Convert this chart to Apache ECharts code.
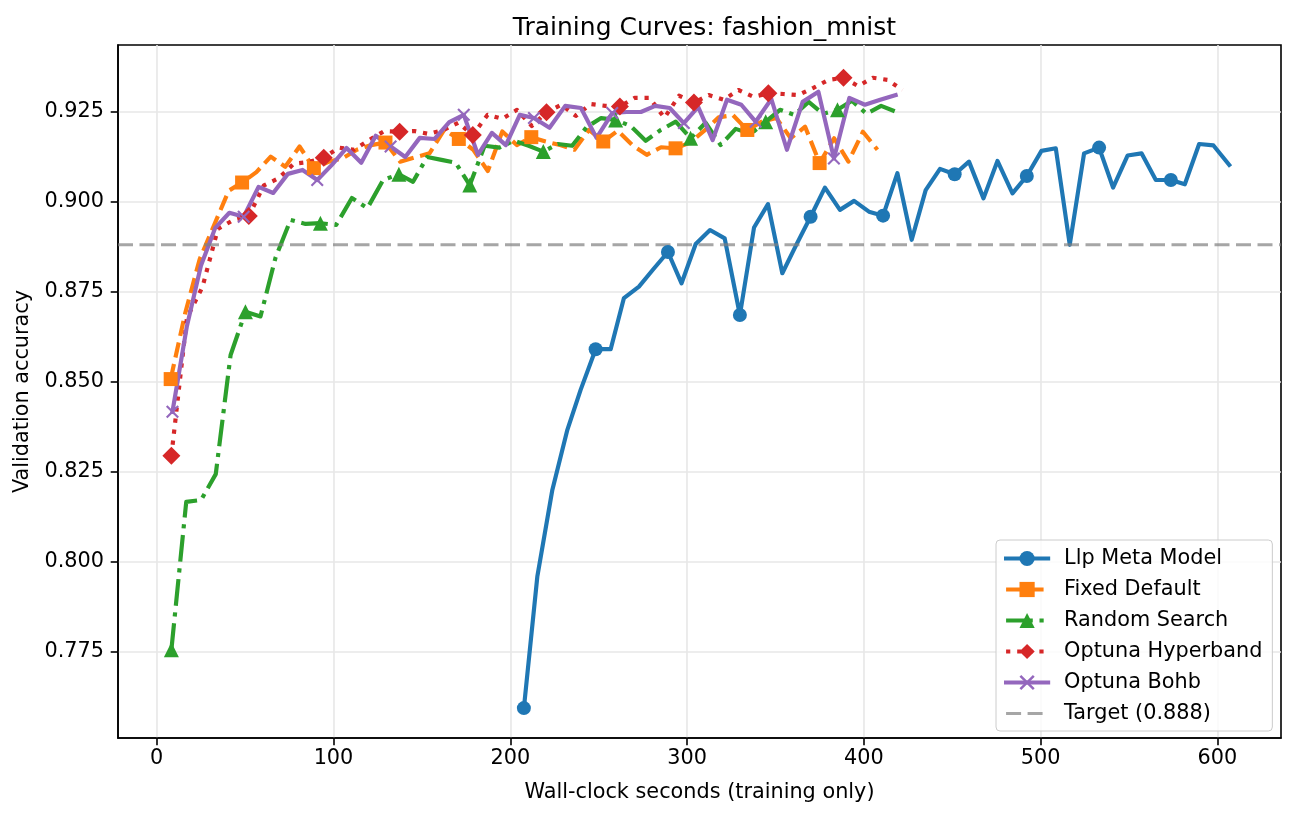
<!DOCTYPE html>
<html>
<head>
<meta charset="utf-8">
<title>Training Curves: fashion_mnist</title>
<script src="https://cdn.jsdelivr.net/npm/echarts@6/dist/echarts.min.js"></script>
<style>
  html, body { margin: 0; padding: 0; background: #fff; }
  #chart { width: 1295px; height: 817px; }
</style>
</head>
<body>
<div id="chart"></div>
<script>
// Llp Meta Model
const metaX = [207.7, 215.3, 223.8, 232.3, 239.8, 248.3, 256.8, 264.3, 272.8, 280.9, 289.2, 296.9, 304.9, 313.0, 321.3, 329.9, 337.9, 345.8, 353.9, 362.0, 369.9, 378.0, 386.5, 394.5, 402.9, 410.9, 419.0, 427.1, 435.0, 443.1, 451.4, 459.5, 467.7, 475.6, 484.1, 492.2, 500.5, 508.6, 516.5, 524.6, 533.1, 541.0, 549.2, 557.1, 565.2, 573.7, 581.6, 589.7, 597.8, 606.7]
const metaY = [0.7593, 0.7958, 0.8199, 0.8366, 0.8477, 0.8590, 0.8590, 0.8732, 0.8764, 0.8812, 0.8860, 0.8773, 0.8882, 0.8921, 0.8898, 0.8685, 0.8928, 0.8993, 0.8801, 0.8882, 0.8958, 0.9039, 0.8977, 0.9002, 0.8972, 0.8961, 0.9079, 0.8894, 0.9032, 0.9091, 0.9076, 0.9111, 0.9009, 0.9113, 0.9023, 0.9071, 0.9141, 0.9148, 0.8880, 0.9134, 0.9150, 0.9039, 0.9128, 0.9134, 0.9060, 0.9060, 0.9048, 0.9160, 0.9156, 0.9102]

// Fixed Default
const fixedX = [7.9, 16.1, 24.3, 32.5, 40.7, 48.3, 56.4, 64.5, 72.7, 80.8, 88.9, 96.9, 105.0, 113.2, 121.3, 129.4, 137.7, 146.0, 154.3, 162.6, 170.9, 179.1, 187.3, 195.5, 203.7, 211.9, 220.0, 228.2, 236.3, 244.5, 252.6, 260.8, 269.0, 277.2, 285.3, 293.5, 301.6, 309.8, 317.9, 326.0, 334.1, 342.3, 350.5, 358.7, 366.8, 375.0, 383.2, 391.3, 399.5, 407.7]
const fixedY = [0.8507, 0.8690, 0.8840, 0.8935, 0.9030, 0.9053, 0.9082, 0.9125, 0.9097, 0.9153, 0.9093, 0.9110, 0.9120, 0.9144, 0.9157, 0.9164, 0.9111, 0.9123, 0.9134, 0.9199, 0.9174, 0.9144, 0.9085, 0.9195, 0.9157, 0.9179, 0.9167, 0.9157, 0.9144, 0.9199, 0.9167, 0.9197, 0.9157, 0.9130, 0.9151, 0.9148, 0.9164, 0.9197, 0.9234, 0.9240, 0.9199, 0.9222, 0.9232, 0.9176, 0.9208, 0.9107, 0.9176, 0.9111, 0.9194, 0.9144]

// Random Search
const randomX = [8.3, 16.7, 25.1, 33.4, 41.8, 50.2, 58.7, 67.2, 75.7, 84.2, 92.6, 101.5, 110.4, 119.2, 128.1, 137.0, 145.0, 153.0, 161.1, 169.1, 177.1, 185.5, 193.8, 202.1, 210.4, 218.7, 226.9, 235.0, 243.2, 251.4, 259.6, 268.1, 276.6, 285.1, 293.6, 302.0, 310.5, 319.0, 327.5, 336.0, 344.5, 352.6, 360.7, 368.8, 376.9, 385.1, 393.3, 401.5, 409.8, 418.0]
const randomY = [0.7755, 0.8166, 0.8171, 0.8243, 0.8574, 0.8694, 0.8681, 0.8844, 0.8949, 0.8938, 0.8940, 0.8935, 0.9010, 0.8982, 0.9060, 0.9076, 0.9055, 0.9124, 0.9116, 0.9108, 0.9046, 0.9155, 0.9150, 0.9169, 0.9155, 0.9139, 0.9160, 0.9155, 0.9207, 0.9232, 0.9227, 0.9210, 0.9169, 0.9199, 0.9222, 0.9176, 0.9219, 0.9157, 0.9202, 0.9188, 0.9222, 0.9255, 0.9241, 0.9277, 0.9244, 0.9255, 0.9280, 0.9244, 0.9266, 0.9250]

// Optuna Hyperband
const hyperX = [8.3, 17.1, 25.9, 34.6, 43.4, 52.1, 60.6, 69.0, 77.5, 86.0, 94.5, 103.1, 111.6, 120.2, 128.7, 137.4, 145.7, 153.9, 162.3, 170.6, 178.8, 187.2, 195.5, 203.8, 212.2, 220.5, 228.9, 237.1, 245.4, 253.8, 262.0, 270.4, 278.8, 287.2, 295.5, 303.9, 312.3, 320.8, 329.1, 337.6, 346.0, 354.5, 363.0, 371.5, 380.0, 388.5, 396.8, 405.1, 413.5, 421.8]
const hyperY = [0.8294, 0.8677, 0.8763, 0.8924, 0.8949, 0.8960, 0.9045, 0.9065, 0.9105, 0.9110, 0.9122, 0.9150, 0.9144, 0.9171, 0.9196, 0.9194, 0.9196, 0.9188, 0.9199, 0.9219, 0.9185, 0.9241, 0.9230, 0.9255, 0.9210, 0.9248, 0.9269, 0.9238, 0.9271, 0.9266, 0.9264, 0.9288, 0.9288, 0.9233, 0.9294, 0.9275, 0.9296, 0.9283, 0.9310, 0.9291, 0.9301, 0.9299, 0.9296, 0.9316, 0.9338, 0.9344, 0.9321, 0.9344, 0.9338, 0.9310]

// Optuna Bohb
const bohbX = [8.9, 17.0, 25.0, 33.1, 41.1, 49.2, 57.6, 65.9, 74.2, 82.5, 90.8, 99.1, 107.4, 115.7, 123.9, 132.3, 140.6, 148.8, 157.2, 165.5, 173.7, 181.7, 189.6, 197.5, 205.4, 213.4, 222.2, 231.1, 240.0, 248.8, 257.7, 265.8, 273.9, 282.0, 290.2, 298.2, 306.3, 314.5, 322.6, 330.7, 338.8, 347.7, 356.5, 365.4, 374.3, 383.1, 391.8, 400.6, 409.3, 418.0]
const bohbY = [0.8416, 0.8652, 0.8822, 0.8927, 0.8969, 0.8958, 0.9041, 0.9024, 0.9077, 0.9088, 0.9060, 0.9102, 0.9149, 0.9108, 0.9183, 0.9153, 0.9124, 0.9177, 0.9174, 0.9221, 0.9241, 0.9130, 0.9191, 0.9157, 0.9241, 0.9232, 0.9205, 0.9266, 0.9260, 0.9177, 0.9246, 0.9249, 0.9249, 0.9266, 0.9260, 0.9218, 0.9263, 0.9171, 0.9283, 0.9269, 0.9222, 0.9285, 0.9144, 0.9277, 0.9305, 0.9120, 0.9288, 0.9269, 0.9283, 0.9296]

const targetAcc = 0.888
const xTicks = [0, 100, 200, 300, 400, 500, 600]
const yTicks = [0.775, 0.800, 0.825, 0.850, 0.875, 0.900, 0.925]
const xRange = [-21.9, 636]
const yRange = [0.751, 0.9435]
const markEvery = 5

const font = 'DejaVu Sans'
const fs = 20.8
const lw = 4.17

// marker shown only on every 5th point, like markevery
function points(xs, ys) {
  return xs.map((x, i) => (i % markEvery === 0 ? [x, ys[i]] : { value: [x, ys[i]], symbol: 'none' }))
}

const xMark = 'path://M0,1.4L1.4,0L6,4.6L10.6,0L12,1.4L7.4,6L12,10.6L10.6,12L6,7.4L1.4,12L0,10.6L4.6,6Z'

function curve(name, xs, ys, color, dash, symbol, symbolSize) {
  return {
    name,
    type: 'line',
    data: points(xs, ys),
    symbol,
    symbolSize,
    showSymbol: true,
    animation: false,
    lineStyle: { color, width: lw, type: dash, join: 'round', cap: dash === 'solid' ? 'square' : 'butt' },
    itemStyle: { color, borderWidth: 0 },
    emphasis: { disabled: true },
  }
}

const seriesNames = ['Llp Meta Model', 'Fixed Default', 'Random Search', 'Optuna Hyperband', 'Optuna Bohb', 'Target (0.888)']

const chart = echarts.init(document.getElementById('chart'), null, { renderer: 'canvas' })

chart.setOption({
  backgroundColor: '#fff',
  animation: false,
  title: {
    text: 'Training Curves: fashion_mnist',
    left: 699.5,
    top: 11,
    textAlign: 'center',
    textStyle: { fontFamily: font, fontSize: 25, fontWeight: 'normal', color: '#000' },
  },
  grid: {
    left: 118,
    top: 45,
    width: 1163,
    height: 693,
    show: true,
    borderColor: '#000',
    borderWidth: 1.6,
    backgroundColor: 'transparent',
  },
  legend: {
    orient: 'vertical',
    left: 996,
    top: 540,
    padding: [8, 10, 7, 8],
    itemWidth: 42,
    itemHeight: 19,
    itemGap: 10,
    backgroundColor: 'rgba(255,255,255,0.8)',
    borderColor: '#cccccc',
    borderWidth: 1,
    borderRadius: 4,
    textStyle: { fontFamily: font, fontSize: fs, color: '#000', padding: [0, 0, 0, 11], lineHeight: 21 },
    data: seriesNames.map((name, i) => (i === 5
      ? { name, itemStyle: { opacity: 0 }, lineStyle: { width: 3 } }
      : { name, lineStyle: { width: lw } })),
  },
  xAxis: {
    type: 'value',
    min: xRange[0],
    max: xRange[1],
    name: 'Wall-clock seconds (training only)',
    nameLocation: 'middle',
    nameGap: 44,
    nameTextStyle: { fontFamily: font, fontSize: fs, color: '#000' },
    axisLine: { show: true, onZero: false, lineStyle: { color: '#000', width: 1.6 } },
    axisTick: { show: true, inside: false, length: 7.3, customValues: xTicks, lineStyle: { color: '#000', width: 1.6 } },
    axisLabel: { customValues: xTicks, margin: 10, fontFamily: font, fontSize: fs, color: '#000' },
    splitLine: { show: true, lineStyle: { color: '#e7e7e7', width: 1.6 } },
  },
  yAxis: {
    type: 'value',
    min: yRange[0],
    max: yRange[1],
    name: 'Validation accuracy',
    nameLocation: 'middle',
    nameGap: 79,
    nameTextStyle: { fontFamily: font, fontSize: fs, color: '#000' },
    axisLine: { show: true, onZero: false, lineStyle: { color: '#000', width: 1.6 } },
    axisTick: { show: true, inside: false, length: 7.3, customValues: yTicks, lineStyle: { color: '#000', width: 1.6 } },
    axisLabel: {
      customValues: yTicks,
      margin: 14,
      fontFamily: font,
      fontSize: fs,
      color: '#000',
      formatter: v => v.toFixed(3),
    },
    splitLine: { show: true, lineStyle: { color: '#e7e7e7', width: 1.6 } },
  },
  series: [
    curve(seriesNames[0], metaX, metaY, '#1f77b4', 'solid', 'circle', 14),
    curve(seriesNames[1], fixedX, fixedY, '#ff7f0e', [15.4, 6.7], 'rect', 14),
    curve(seriesNames[2], randomX, randomY, '#2ca02c', [26.7, 6.7, 4.2, 6.7], 'triangle', 15),
    curve(seriesNames[3], hyperX, hyperY, '#d62728', [4.2, 6.9], 'diamond', 18),
    curve(seriesNames[4], bohbX, bohbY, '#9467bd', 'solid', xMark, 13),
    {
      name: seriesNames[5],
      type: 'line',
      data: [[xRange[0], targetAcc], [xRange[1], targetAcc]],
      symbol: 'none',
      animation: false,
      lineStyle: { color: 'rgba(128,128,128,0.7)', width: 3, type: [15, 6.5], cap: 'butt' },
      itemStyle: { color: 'rgba(128,128,128,0.7)' },
      emphasis: { disabled: true },
    },
  ],
})
</script>
</body>
</html>
